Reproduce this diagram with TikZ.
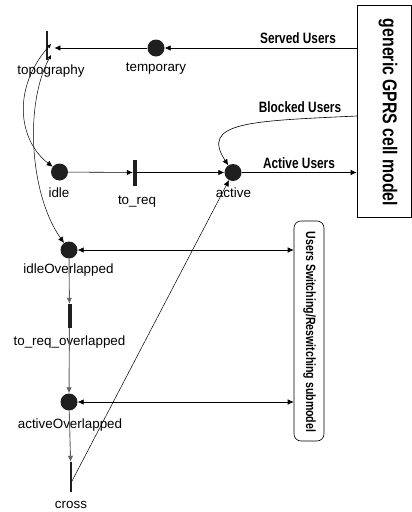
\documentclass[tikz,border=0pt]{standalone}
\usepackage{fontspec}
\setmainfont{Liberation Sans}
\newfontfamily\condfont[FakeStretch=0.79]{Liberation Sans Bold}
\usetikzlibrary{arrows.meta}
\tikzset{
  place/.style={circle,fill=black!88,minimum size=17pt,inner sep=0pt},
  trans/.style={rectangle,fill=black!88,inner sep=0pt},
  lbl/.style={anchor=base,inner sep=0pt,font=\fontsize{13.4}{13.4}\selectfont},
  blbl/.style={anchor=base,inner sep=0pt,font=\condfont\fontsize{15}{15}\selectfont},
  arr/.style={-{Latex[length=6pt,width=5.5pt]},line width=0.6pt},
  darr/.style={{Latex[length=6pt,width=5.5pt]}-{Latex[length=6pt,width=5.5pt]},line width=0.6pt},
  garr/.style={-{Latex[length=6pt,width=5.5pt]},line width=0.9pt,draw=black!62},
}
\begin{document}
\begin{tikzpicture}[x=1pt,y=-1pt]
\useasboundingbox (0,0) rectangle (412,512);
% places and transitions
\node[trans,minimum width=2.5pt,minimum height=29pt] (topo) at (47,45) {};
\node[place] (temp) at (156,48) {};
\node[place] (idle) at (59.5,172) {};
\node[trans,minimum width=4pt,minimum height=26pt] (toreq) at (135,172.5) {};
\node[place] (active) at (233,172.5) {};
\node[place] (idleOv) at (69,250) {};
\node[trans,minimum width=4pt,minimum height=24pt] (toreqOv) at (69.5,316) {};
\node[place] (activeOv) at (69,402) {};
\node[trans,minimum width=2.5pt,minimum height=30pt] (cross) at (71,477) {};
% boxes
\node[draw,line width=0.6pt,minimum width=54pt,minimum height=212pt,inner sep=0pt] (cell) at (384,111) {};
\node[rotate=-90,inner sep=0pt,font=\condfont\fontsize{20}{20}\selectfont] (celltxt) at (388,112.5) {generic GPRS cell model};
\node[draw,line width=0.6pt,rounded corners=7pt,minimum width=30pt,minimum height=220pt,inner sep=0pt] (sub) at (309,331) {};
\node[rotate=-90,inner sep=0pt,font=\condfont\fontsize{13.4}{13.4}\selectfont] (subtxt) at (309.5,332) {Users Switching/Reswitching submodel};
% labels
\node[lbl] (lt) at (51,74) {topography};
\node[lbl] (ltemp) at (156,71) {temporary};
\node[lbl] (lidle) at (59,197) {idle};
\node[lbl] (ltoreq) at (137,204) {to\_req};
\node[lbl] (lact) at (233.5,197) {active};
\node[lbl] (lio) at (68.5,273) {idleOverlapped};
\node[lbl] (ltro) at (69.5,345) {to\_req\_overlapped};
\node[lbl] (lao) at (70,428) {activeOverlapped};
\node[lbl] (lcross) at (71,508) {cross};
\node[blbl] (lserved) at (298,43) {Served Users};
\node[blbl] (lblocked) at (300,112.5) {Blocked Users};
\node[blbl] (lactive) at (299,168) {Active Users};
% connectors
\draw[arr] (temp -| cell.west) -- (temp);
\draw[arr,shorten >=6pt] (temp) -- (topo.east |- temp);
\coordinate (ta) at (51,44);
\coordinate (tb) at (51,55);
\draw[{Latex[length=4pt,width=4pt]}-{Latex[length=6pt,width=5.5pt]},line width=0.5pt] (ta) .. controls (12,88) and (18,140) .. (idle);
\draw[{Latex[length=4pt,width=4pt]}-{Latex[length=6pt,width=5.5pt]},line width=0.5pt] (tb) .. controls (24,105) and (30,195) .. (idleOv);
\draw[arr] (idle) -- (toreq);
\draw[arr] (toreq) -- (active);
\draw[arr] (active) -- (active -| cell.west);
\coordinate (bk) at (357,116);
\draw[arr] (bk) .. controls (250,121) and (200,122) .. (active);
\coordinate (cs) at (72,481);
\draw[arr,line width=0.5pt] (cs) -- (active);
\draw[darr] (idleOv) -- (idleOv -| sub.west);
\draw[darr] (activeOv) -- (activeOv -| sub.west);
\draw[garr] (idleOv) -- (toreqOv);
\draw[garr] (toreqOv) -- (activeOv);
\draw[garr] (activeOv) -- (cross);
\end{tikzpicture}
\end{document}
